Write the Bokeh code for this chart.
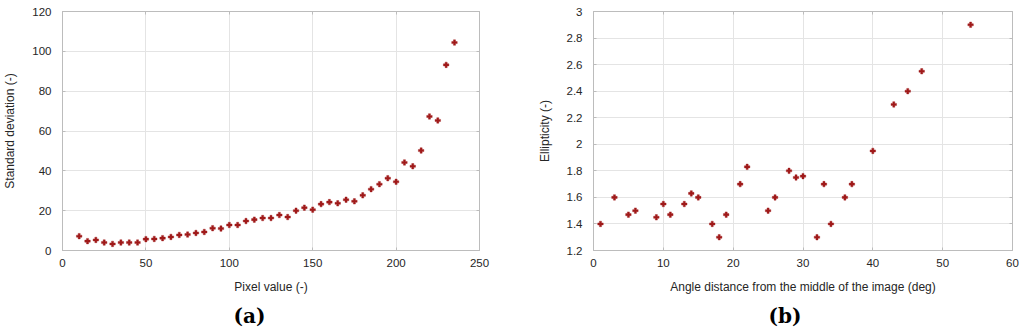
from bokeh.plotting import figure
from bokeh.layouts import row
from bokeh.models import (Range1d, LinearAxis, SingleIntervalTicker, Title,
                          CustomJSTickFormatter, ColumnDataSource)
from bokeh.embed import file_html
from bokeh.resources import INLINE

# ---- data (a) ----
pixel_value = [10, 15, 20, 25, 30, 35, 40, 45, 50, 55, 60, 65, 70, 75, 80, 85,
               90, 95, 100, 105, 110, 115, 120, 125, 130, 135, 140, 145, 150,
               155, 160, 165, 170, 175, 180, 185, 190, 195, 200, 205, 210, 215,
               220, 225, 230, 235]
std_dev = [7.2, 4.7, 5.3, 4.0, 3.3, 4.0, 4.0, 4.0, 5.7, 5.8, 6.2, 6.8, 7.8, 8.0,
           8.8, 9.3, 11.2, 11.0, 12.8, 12.8, 14.8, 15.5, 16.3, 16.3, 17.8, 16.8,
           20.0, 21.5, 20.5, 23.3, 24.3, 23.7, 25.5, 24.7, 27.7, 30.8, 33.3,
           36.3, 34.5, 44.2, 42.3, 50.2, 67.3, 65.3, 93.2, 104.4]

# ---- data (b) ----
angle_dist = [1, 3, 5, 6, 9, 10, 11, 13, 14, 15, 17, 18, 19, 21, 22, 25, 26,
              28, 29, 30, 32, 33, 34, 36, 37, 40, 43, 45, 47, 54]
ellipticity = [1.4, 1.6, 1.47, 1.5, 1.45, 1.55, 1.47, 1.55, 1.63, 1.6, 1.4, 1.3,
               1.47, 1.7, 1.83, 1.5, 1.6, 1.8, 1.75, 1.76, 1.3, 1.7, 1.4, 1.6,
               1.7, 1.95, 2.3, 2.4, 2.55, 2.9]

MARK = "#a01a1a"
FRAME = "#bcbcbc"
GRID = "#e4e4e4"
TXT = "#262626"
FONT = "Liberation Sans"


def style(p, xlabel, ylabel, xint, yint, yfmt=None):
    p.outline_line_color = FRAME
    p.outline_line_width = 1
    p.xgrid.grid_line_color = GRID
    p.ygrid.grid_line_color = GRID
    p.xaxis.ticker = SingleIntervalTicker(interval=xint)
    p.yaxis.ticker = SingleIntervalTicker(interval=yint)
    for ax in (p.xaxis[0], p.yaxis[0]):
        ax.axis_line_color = FRAME
        ax.major_tick_line_color = FRAME
        ax.major_tick_in = 3
        ax.major_tick_out = 0
        ax.minor_tick_line_color = None
        ax.major_label_text_font = FONT
        ax.major_label_text_font_size = "11.5px"
        ax.major_label_text_color = TXT
        ax.axis_label_text_font = FONT
        ax.axis_label_text_font_size = "12px"
        ax.axis_label_text_font_style = "normal"
        ax.axis_label_text_color = TXT
    p.xaxis.major_label_standoff = 4
    p.yaxis.major_label_standoff = 7
    p.xaxis.axis_label = xlabel
    p.yaxis.axis_label = ylabel
    p.xaxis.axis_label_standoff = 10
    p.yaxis.axis_label_standoff = 12
    if yfmt is not None:
        p.yaxis.formatter = yfmt
    # mirrored ticks on the right and top
    for side, tick_int in (("right", yint), ("above", xint)):
        ax = LinearAxis(ticker=SingleIntervalTicker(interval=tick_int))
        ax.axis_line_color = FRAME
        ax.major_tick_line_color = FRAME
        ax.major_tick_in = 3
        ax.major_tick_out = 0
        ax.minor_tick_line_color = None
        ax.major_label_text_font_size = "0px"
        ax.major_label_text_color = None
        ax.major_label_standoff = 0
        p.add_layout(ax, side)


def panel_title(p, text, offset):
    t = Title(text=text, align="left", offset=offset,
              text_font="DejaVu Serif", text_font_size="20px",
              text_font_style="bold", text_color="#000000")
    p.add_layout(t, "below")


# ---- figure (a) ----
src_a = ColumnDataSource(dict(x=pixel_value, y=std_dev))
pa = figure(width=520, height=334, output_backend="svg", toolbar_location=None,
            x_range=Range1d(0, 250), y_range=Range1d(0, 120),
            min_border_left=62, min_border_right=41, min_border_top=11,
            min_border_bottom=84)
pa.scatter("x", "y", source=src_a, marker="plus", size=5.5,
           fill_color=MARK, line_color=MARK, line_width=0.4)
style(pa, "Pixel value (-)", "Standard deviation (-)", 50, 20)
panel_title(pa, "(a)", 171)

# ---- figure (b) ----
fmt = CustomJSTickFormatter(code="return String(Number(tick.toFixed(1)));")
src_b = ColumnDataSource(dict(x=angle_dist, y=ellipticity))
pb = figure(width=504, height=334, output_backend="svg", toolbar_location=None,
            x_range=Range1d(0, 60), y_range=Range1d(1.2, 3.0),
            min_border_left=73, min_border_right=12, min_border_top=11,
            min_border_bottom=84)
pb.scatter("x", "y", source=src_b, marker="plus", size=5.5,
           fill_color=MARK, line_color=MARK, line_width=0.4)
style(pb, "Angle distance from the middle of the image (deg)", "Ellipticity (-)",
      10, 0.2, fmt)
panel_title(pb, "(b)", 175)

layout = row(pa, pb)
open("out.html", "w").write(file_html(layout, INLINE))
